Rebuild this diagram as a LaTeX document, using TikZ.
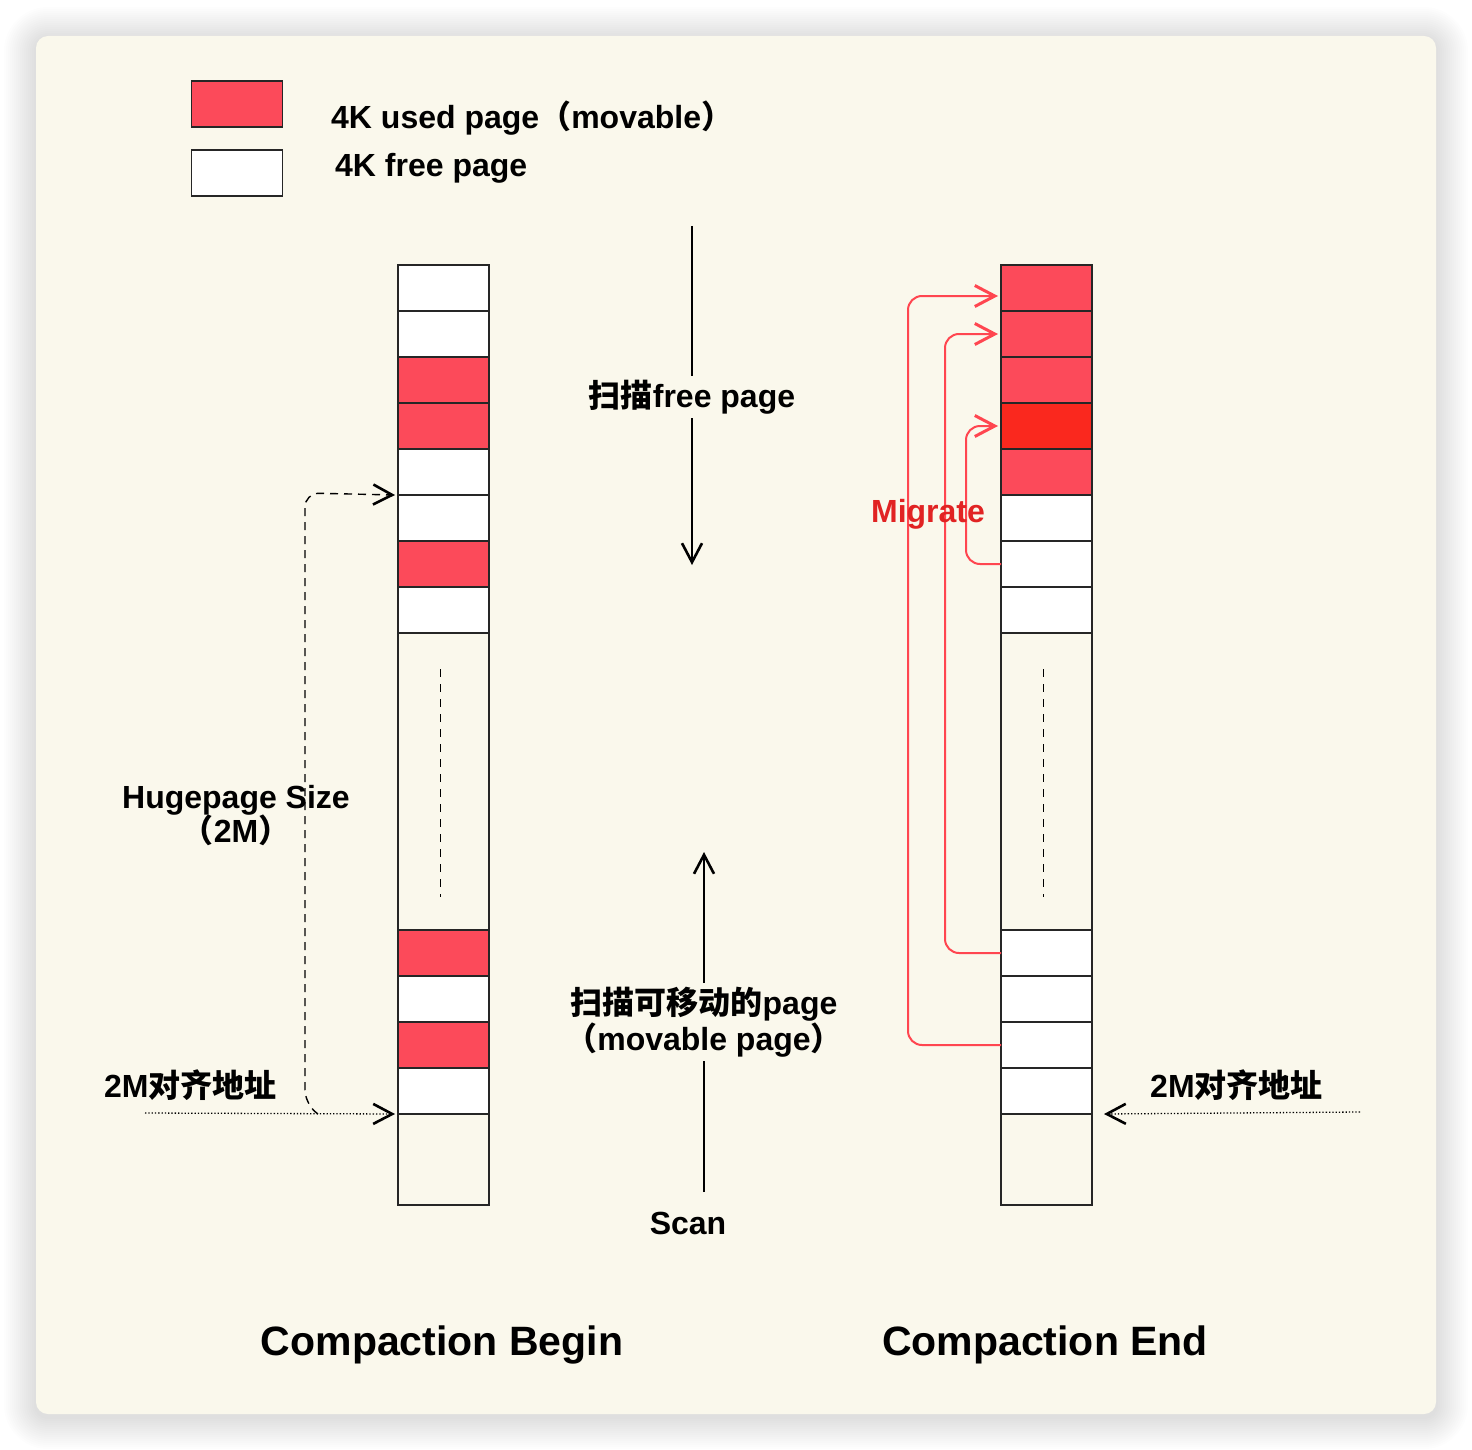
\documentclass[tikz,border=0pt]{standalone}
\usepackage{fontspec}
\setmainfont{Liberation Sans}
\newfontfamily\cjk{Noto Sans CJK SC}
\usetikzlibrary{arrows.meta,calc}
\definecolor{cardbg}{RGB}{250,248,236}
\definecolor{usedred}{RGB}{252,74,90}
\definecolor{hotred}{RGB}{250,40,30}
\definecolor{migline}{RGB}{255,70,80}
\definecolor{migtext}{RGB}{225,35,35}
\newcommand\zh[1]{{\cjk\bfseries #1}}
\tikzset{
  cell/.style={draw=black!85, line width=1.6pt, minimum width=91pt, minimum height=46pt, inner sep=0pt, outer sep=0pt},
  lbl/.style={font=\fontsize{32}{36}\selectfont\bfseries, inner sep=2pt, align=center},
  ttl/.style={font=\fontsize{41}{46}\selectfont\bfseries, inner sep=0pt},
  barb/.style={-{Straight Barb[length=19pt,width=20pt,line width=2.6pt]}},
  scanline/.style={line width=1.8pt, barb},
  migr/.style={draw=migline, line width=2pt, rounded corners=14pt, -{Straight Barb[length=20pt,width=21pt,line width=3pt]}},
  innerdash/.style={line width=1.3pt, dash pattern=on 8pt off 7pt},
}
\begin{document}
\begin{tikzpicture}[x=1pt,y=-1pt]
\useasboundingbox (0,0) rectangle (1472,1450);
\fill[white] (0,0) rectangle (1472,1450);
% shadow
\foreach \i in {1,...,16}{
  \pgfmathsetmacro\r{12+2*\i}
  \fill[black, opacity=0.009, rounded corners=\r pt] (36-2*\i,36-2*\i+3) rectangle (1436+2*\i,1414+2*\i+3);
}
\fill[cardbg, rounded corners=12pt] (36,36) rectangle (1436,1414);

% legend
\node[cell, fill=usedred] (legU) at (237,104) {};
\node[cell, fill=white] (legF) at (237,173) {};
\node[lbl, anchor=west] (legUt) at (329,118) {4K used page\zh{（}movable\zh{）}};
\node[lbl, anchor=west] (legFt) at (333,168) {4K free page};

% left column
\foreach \n/\y/\c in {1/288/white,2/334/white,3/380/usedred,4/426/usedred,5/472/white,6/518/white,7/564/usedred,8/610/white,10/953/usedred,11/999/white,12/1045/usedred,13/1091/white}{
  \node[cell, fill=\c] (L\n) at (443.5,\y) {};
}
\node[cell, minimum height=297pt] (L9) at (443.5,781.5) {};
\node[cell, minimum height=91pt] (L14) at (443.5,1159.5) {};
% right column
\foreach \n/\y/\c in {1/288/usedred,2/334/usedred,3/380/usedred,4/426/hotred,5/472/usedred,6/518/white,7/564/white,8/610/white,10/953/white,11/999/white,12/1045/white,13/1091/white}{
  \node[cell, fill=\c] (R\n) at (1046.5,\y) {};
}
\node[cell, minimum height=297pt] (R9) at (1046.5,781.5) {};
\node[cell, minimum height=91pt] (R14) at (1046.5,1159.5) {};

\draw[innerdash] ($(L9.north)+(-3,36)$) coordinate (ld1) -- ($(L9.south)+(-3,-33)$) coordinate (ld2);
\draw[innerdash] ($(R9.north)+(-3,36)$) coordinate (rd1) -- ($(R9.south)+(-3,-33)$) coordinate (rd2);

% middle scan arrows
\coordinate (t1) at (692,226);
\coordinate (t2) at (692,565);
\draw[scanline] (t1) -- (t2);
\node[lbl, fill=cardbg, inner sep=4pt] (scanfree) at (692,397) {\zh{扫描}free page};
\coordinate (b1) at (704,1192);
\coordinate (b2) at (704,852);
\draw[scanline] (b1) -- (b2);
\node[lbl, fill=cardbg, inner sep=4pt, align=center] (scanmov) at (704,1022) {\zh{扫描可移动的}page\\\zh{（}movable page\zh{）}};
\node[lbl] (scan) at (688,1223) {Scan};

% left annotations
\node[lbl] (huge) at (236,816) {Hugepage Size\\[-2pt]\zh{（}2M\zh{）}};
\node[lbl, anchor=west] (addrL) at (102,1085) {2M\zh{对齐地址}};
\coordinate (dl) at (145,1113);
\draw[line width=1.3pt, dash pattern=on 1.3pt off 2pt, barb] (dl) -- ($(L13.south west)+(-3,0)$);
\draw[line width=1.4pt, dash pattern=on 8pt off 6pt, rounded corners=14pt, barb] ($(L13.south west)+(-80,0)$) -- ($(L13.south west)+(-93,-10)$) -- (305,493) -- ($(L5.south west)+(-3,0)$);

% right annotations
\node[lbl, anchor=west] (addrR) at (1148,1085) {2M\zh{对齐地址}};
\coordinate (dr) at (1360,1112);
\draw[line width=1.3pt, dash pattern=on 1.3pt off 2pt, barb] (dr) -- ($(R13.south east)+(12,0)$);

% migrate arrows
\draw[migr] (R12.west) -| (908,700) |- ($(R1.west)+(-3,8)$);
\draw[migr] (R10.west) -| (945,700) |- ($(R2.west)+(-3,0)$);
\draw[migr] (R7.west) -| (966,500) |- ($(R4.west)+(-3,0)$);
\node[lbl, text=migtext] (migrate) at (928,514) {Migrate};

% titles
\node[ttl] (tb) at (442,1345) {Compaction Begin};
\node[ttl] (te) at (1045,1345) {Compaction End};
\end{tikzpicture}
\end{document}
